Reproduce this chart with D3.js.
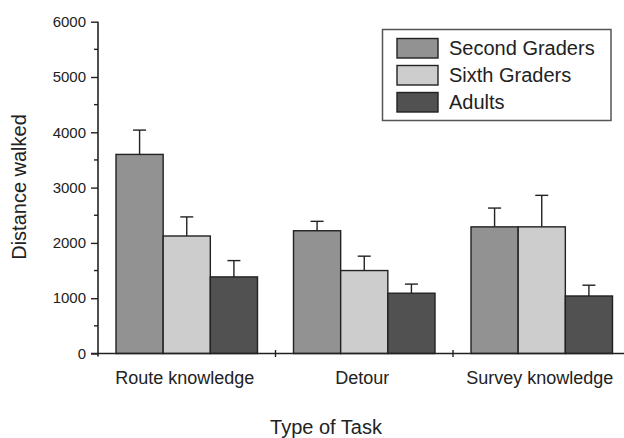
<!DOCTYPE html>
<html>
<head>
<meta charset="utf-8">
<script src="https://cdn.jsdelivr.net/npm/d3@7"></script>
<style>
  body { margin: 0; background: white; }
  svg { display: block; font-family: "Liberation Sans", Arial, sans-serif; }
</style>
</head>
<body>
<svg id="chart" width="624" height="438"></svg>
<script>
const tasks = ["Route knowledge", "Detour", "Survey knowledge"];
const groups = ["Second Graders", "Sixth Graders", "Adults"];
const means = {
    "Second Graders": [3600, 2220, 2290],
    "Sixth Graders": [2125, 1500, 2290],
    "Adults": [1385, 1090, 1040]
};
const upper = {
    "Second Graders": [4040, 2390, 2630],
    "Sixth Graders": [2470, 1760, 2860],
    "Adults": [1680, 1255, 1235]
};
const yTicks = [0, 1000, 2000, 3000, 4000, 5000, 6000];
const colours = ["#929292", "#cdcdcd", "#515151"];

const svg = d3.select("#chart");

const x0 = d3.scaleBand()
    .domain(tasks)
    .range([98, 630.5]);

const pad = 18;
const x1 = d3.scaleBand()
    .domain(groups)
    .range([pad, x0.bandwidth() - pad]);

const y = d3.scaleLinear()
    .domain([0, 6000])
    .range([353.5, 21.7]);

const colour = d3.scaleOrdinal().domain(groups).range(colours);

const rows = [];
tasks.forEach((t, i) => {
    groups.forEach(g => {
        rows.push({ task: t, group: g, value: means[g][i], hi: upper[g][i] });
    });
});

// error bars first, so the bar outline sits on top of the stem base
const err = svg.append("g")
    .attr("stroke", "#222")
    .attr("stroke-width", 1.4);

err.selectAll("line.stem")
    .data(rows)
    .join("line")
    .attr("class", "stem")
    .attr("x1", d => x0(d.task) + x1(d.group) + x1.bandwidth() / 2)
    .attr("x2", d => x0(d.task) + x1(d.group) + x1.bandwidth() / 2)
    .attr("y1", d => y(d.value))
    .attr("y2", d => y(d.hi));

err.selectAll("line.cap")
    .data(rows)
    .join("line")
    .attr("class", "cap")
    .attr("x1", d => x0(d.task) + x1(d.group) + x1.bandwidth() / 2 - 6.5)
    .attr("x2", d => x0(d.task) + x1(d.group) + x1.bandwidth() / 2 + 6.5)
    .attr("y1", d => y(d.hi))
    .attr("y2", d => y(d.hi));

svg.append("g")
    .selectAll("rect")
    .data(rows)
    .join("rect")
    .attr("x", d => x0(d.task) + x1(d.group))
    .attr("y", d => y(d.value))
    .attr("width", x1.bandwidth())
    .attr("height", d => y(0) - y(d.value))
    .attr("fill", d => colour(d.group))
    .attr("stroke", "#222")
    .attr("stroke-width", 1.4);

// y axis: ticks from d3.axis, labels drawn separately
const yAxis = svg.append("g")
    .attr("transform", "translate(98,0)")
    .call(d3.axisLeft(y).tickValues(yTicks).tickFormat("")
        .tickSize(7).tickSizeOuter(0));
yAxis.select(".domain").attr("stroke", "#222").attr("stroke-width", 1.6)
    .attr("d", `M0,${y(6000)}V${y(0) + 3}`);
yAxis.selectAll(".tick line").attr("stroke", "#222").attr("stroke-width", 1.4);

svg.append("g")
    .selectAll("text")
    .data(yTicks)
    .join("text")
    .attr("x", 86)
    .attr("y", d => y(d))
    .attr("dy", "0.35em")
    .attr("text-anchor", "end")
    .attr("font-size", 15)
    .attr("fill", "#222")
    .text(d3.format("d"));

svg.append("g")
    .selectAll("line")
    .data(d3.range(500, 6000, 1000))
    .join("line")
    .attr("x1", 94)
    .attr("x2", 98)
    .attr("y1", d => y(d))
    .attr("y2", d => y(d))
    .attr("stroke", "#222")
    .attr("stroke-width", 1.4);

// x axis
svg.append("line")
    .attr("x1", 91)
    .attr("x2", 630)
    .attr("y1", y(0))
    .attr("y2", y(0))
    .attr("stroke", "#222")
    .attr("stroke-width", 1.6);

svg.append("g")
    .selectAll("line")
    .data(tasks.slice(1))
    .join("line")
    .attr("x1", d => x0(d))
    .attr("x2", d => x0(d))
    .attr("y1", y(0) - 3.5)
    .attr("y2", y(0) + 3.5)
    .attr("stroke", "#222")
    .attr("stroke-width", 1.4);

svg.append("g")
    .selectAll("text")
    .data(tasks)
    .join("text")
    .attr("x", d => x0(d) + x0.bandwidth() / 2 - 2)
    .attr("y", 384)
    .attr("text-anchor", "middle")
    .attr("font-size", 18)
    .attr("fill", "#222")
    .text(d => d);

svg.append("text")
    .attr("x", 326)
    .attr("y", 434)
    .attr("text-anchor", "middle")
    .attr("font-size", 20)
    .attr("fill", "#222")
    .text("Type of Task");

svg.append("text")
    .attr("transform", "translate(26,187)rotate(-90)")
    .attr("text-anchor", "middle")
    .attr("font-size", 20)
    .attr("fill", "#222")
    .text("Distance walked");

// legend
const legend = svg.append("g");
legend.append("rect")
    .attr("x", 382.5)
    .attr("y", 29.5)
    .attr("width", 228.5)
    .attr("height", 91)
    .attr("fill", "white")
    .attr("stroke", "#555")
    .attr("stroke-width", 1.5);

const items = legend.selectAll("g.item")
    .data(groups)
    .join("g")
    .attr("class", "item")
    .attr("transform", (d, i) => `translate(397,${38.5 + i * 27})`);

items.append("rect")
    .attr("width", 41)
    .attr("height", 19.5)
    .attr("fill", d => colour(d))
    .attr("stroke", "#222")
    .attr("stroke-width", 1.4);

items.append("text")
    .attr("x", 52)
    .attr("y", 16.5)
    .attr("font-size", 20)
    .attr("fill", "#222")
    .text(d => d);
</script>
</body>
</html>
